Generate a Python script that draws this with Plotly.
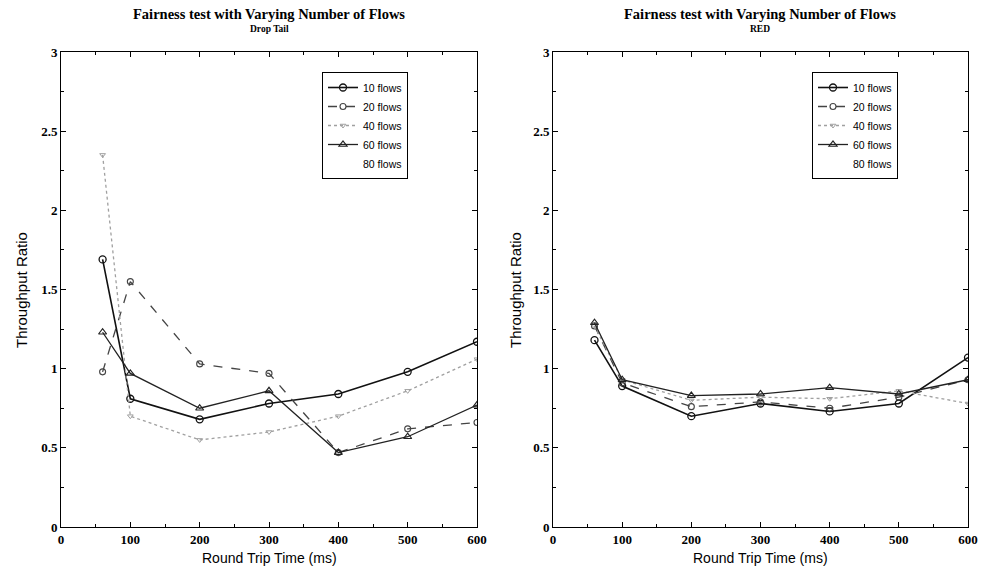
import plotly.graph_objects as go

rtt = [60, 100, 200, 300, 400, 500, 600]
series_names = ["10 flows", "20 flows", "40 flows", "60 flows", "80 flows"]

droptail = {
    "10 flows": [1.69, 0.81, 0.68, 0.78, 0.84, 0.98, 1.17],
    "20 flows": [0.98, 1.55, 1.03, 0.97, 0.47, 0.62, 0.66],
    "40 flows": [2.35, 0.70, 0.55, 0.60, 0.70, 0.86, 1.06],
    "60 flows": [1.23, 0.97, 0.75, 0.86, 0.47, 0.57, 0.77],
    "80 flows": [None] * 7,
}
red = {
    "10 flows": [1.18, 0.89, 0.70, 0.78, 0.73, 0.78, 1.07],
    "20 flows": [1.27, 0.91, 0.76, 0.79, 0.75, 0.82, 0.93],
    "40 flows": [1.27, 0.93, 0.80, 0.82, 0.81, 0.86, 0.78],
    "60 flows": [1.29, 0.93, 0.83, 0.84, 0.88, 0.84, 0.93],
    "80 flows": [None] * 7,
}

styles = {
    "10 flows": dict(line=dict(color="#111111", width=1.6, dash="solid"),
                     marker=dict(symbol="circle-open", size=7, color="#111111", line=dict(width=1.3))),
    "20 flows": dict(line=dict(color="#444444", width=1.3, dash="dash"),
                     marker=dict(symbol="circle-open", size=6, color="#444444", line=dict(width=1.1))),
    "40 flows": dict(line=dict(color="#a0a0a0", width=1.3, dash="dot"),
                     marker=dict(symbol="triangle-down-open", size=5, color="#a0a0a0", line=dict(width=1))),
    "60 flows": dict(line=dict(color="#222222", width=1.3, dash="solid"),
                     marker=dict(symbol="triangle-up-open", size=7, color="#222222", line=dict(width=1.2))),
    "80 flows": dict(line=dict(color="rgba(0,0,0,0)", width=1),
                     marker=dict(size=1, color="rgba(0,0,0,0)")),
}

fig = go.Figure()
for data, xa, ya, lg in [(droptail, "x", "y", "legend"), (red, "x2", "y2", "legend2")]:
    for name in series_names:
        fig.add_trace(go.Scatter(
            x=rtt, y=data[name], name=name, mode="lines+markers",
            xaxis=xa, yaxis=ya, legend=lg, connectgaps=False,
            **styles[name]))

W, H = 981, 576
def px(v):
    return v / W
def py(v):
    return (H - v) / H

serif = "Liberation Serif"
sans = "Liberation Sans"

axis_common = dict(
    showline=True, linecolor="black", linewidth=1, mirror="allticks",
    ticks="inside", ticklen=5, tickcolor="black", tickwidth=1,
    showgrid=False, zeroline=False, automargin=False,
    tickfont=dict(family=serif, size=13, color="black", weight="bold"),
)
xaxis_common = dict(axis_common, range=[0, 600], dtick=100, tick0=0, ticklabelstandoff=0,
                    minor=dict(ticks="inside", ticklen=3, dtick=50, tickcolor="black"))
yaxis_common = dict(axis_common, range=[0, 3], dtick=0.5, tick0=0,
                    minor=dict(ticks="inside", ticklen=3, dtick=0.25, tickcolor="black"))

y_dom = [py(527), py(52)]
legend_common = dict(
    bgcolor="white", bordercolor="black", borderwidth=1,
    font=dict(family=sans, size=10.5, color="black"),
    xanchor="left", yanchor="top", tracegroupgap=0, itemwidth=30,
)

fig.update_layout(
    width=W, height=H,
    margin=dict(l=0, r=0, t=0, b=0),
    paper_bgcolor="white", plot_bgcolor="white",
    showlegend=True,
    xaxis=dict(xaxis_common, domain=[px(61), px(477)], anchor="y"),
    yaxis=dict(yaxis_common, domain=y_dom, anchor="x"),
    xaxis2=dict(xaxis_common, domain=[px(553), px(968)], anchor="y2"),
    yaxis2=dict(yaxis_common, domain=y_dom, anchor="x2"),
    legend=dict(legend_common, x=px(322), y=py(72)),
    legend2=dict(legend_common, x=px(812), y=py(72)),
)

annots = [
    dict(text="<b>Fairness test with Varying Number of Flows</b>", x=px(269), y=py(14),
         font=dict(family=serif, size=14.5)),
    dict(text="<b>Drop Tail</b>", x=px(269), y=py(29), font=dict(family=serif, size=9.5)),
    dict(text="<b>Fairness test with Varying Number of Flows</b>", x=px(760), y=py(14),
         font=dict(family=serif, size=14.5)),
    dict(text="<b>RED</b>", x=px(760), y=py(29), font=dict(family=serif, size=9.5)),
    dict(text="Round Trip Time (ms)", x=px(269), y=py(558), font=dict(family=sans, size=14)),
    dict(text="Round Trip Time (ms)", x=px(760), y=py(558), font=dict(family=sans, size=14)),
    dict(text="Throughput Ratio", x=px(21), y=py(290), textangle=-90, font=dict(family=sans, size=15)),
    dict(text="Throughput Ratio", x=px(515), y=py(290), textangle=-90, font=dict(family=sans, size=15)),
]
for a in annots:
    a.update(xref="paper", yref="paper", showarrow=False, xanchor="center", yanchor="middle")
    a["font"]["color"] = "black"
    fig.add_annotation(**a)

fig.write_html("out.html")
